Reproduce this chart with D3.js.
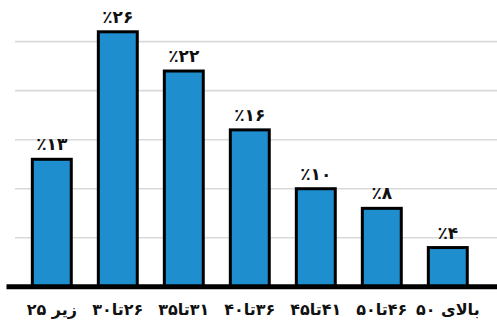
<!DOCTYPE html>
<html>
<head>
<meta charset="utf-8">
<script src="https://cdn.jsdelivr.net/npm/d3@7"></script>
<style>
  html, body { margin: 0; padding: 0; background: #fff; }
  svg { display: block; }
  text { font-family: "DejaVu Sans", sans-serif; font-weight: bold; fill: #111; }
</style>
</head>
<body>
<script>
// Age groups and their share of respondents (percent)
const categories = ["زیر ۲۵", "۲۶تا۳۰", "۳۱تا۳۵", "۳۶تا۴۰", "۴۱تا۴۵", "۴۶تا۵۰", "بالای ۵۰"];
const values = [13, 26, 22, 16, 10, 8, 4];
const gridTicks = [5, 10, 15, 20, 25];

const width = 497, height = 323;
const toPersian = n => String(n).replace(/\d/g, d => "۰۱۲۳۴۵۶۷۸۹"[d]);

const svg = d3.select("body").append("svg")
  .attr("width", width).attr("height", height);

const x = d3.scaleBand()
  .domain(categories)
  .range([18.8, 480.8])
  .paddingInner(0.41)
  .paddingOuter(0.205);

const y = d3.scaleLinear()
  .domain([0, 25])
  .range([286.8, 41.6]);

// horizontal gridlines
svg.append("g")
  .selectAll("line")
  .data(gridTicks)
  .join("line")
  .attr("x1", 15).attr("x2", width)
  .attr("y1", d => y(d)).attr("y2", d => y(d))
  .attr("stroke", "#d9d9d9")
  .attr("stroke-width", 1.6);

// bars
svg.append("g")
  .selectAll("rect")
  .data(values)
  .join("rect")
  .attr("x", (d, i) => x(categories[i]))
  .attr("width", x.bandwidth())
  .attr("y", d => y(d))
  .attr("height", d => y(0) - y(d))
  .attr("fill", "#1e8ecf")
  .attr("stroke", "#000")
  .attr("stroke-width", 3);

// baseline
svg.append("line")
  .attr("x1", 6.5).attr("x2", width)
  .attr("y1", y(0)).attr("y2", y(0))
  .attr("stroke", "#000")
  .attr("stroke-width", 5);

// value labels
svg.append("g")
  .selectAll("text")
  .data(values)
  .join("text")
  .attr("x", (d, i) => x(categories[i]) + x.bandwidth() / 2)
  .attr("y", d => y(d) - 9)
  .attr("text-anchor", "middle")
  .attr("font-size", 17)
  .text(d => "٪" + toPersian(d));

// category labels
svg.append("g")
  .selectAll("text")
  .data(categories)
  .join("text")
  .attr("x", d => x(d) + x.bandwidth() / 2)
  .attr("y", 315)
  .attr("text-anchor", "middle")
  .attr("direction", "rtl")
  .attr("font-size", 16)
  .text(d => d);
</script>
</body>
</html>
